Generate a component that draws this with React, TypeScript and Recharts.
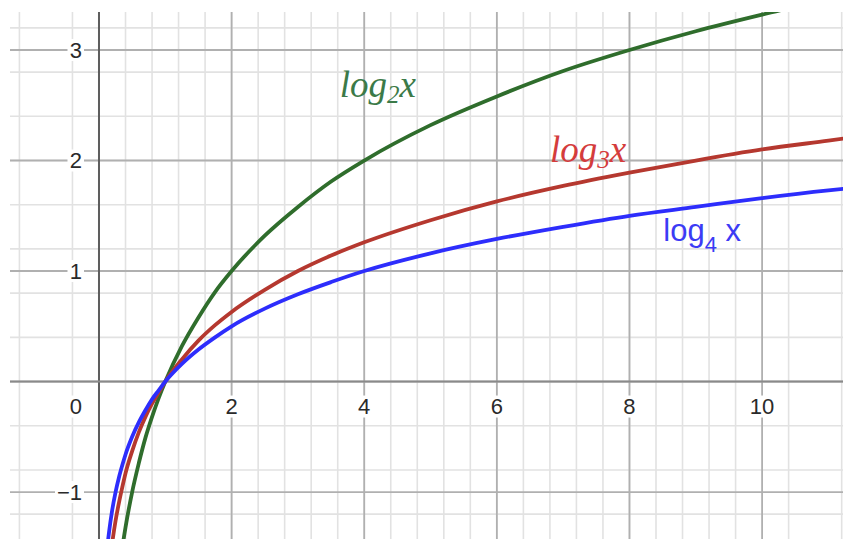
import React from 'react';
import {
  ComposedChart, Line, XAxis, YAxis, CartesianGrid,
  ReferenceLine, ReferenceDot,
} from 'recharts';

// sample points along each curve
const xs = [0.1, 0.12, 0.15, 0.2, 0.25, 0.3, 0.35, 0.4, 0.5, 0.6, 0.7, 0.8, 0.9, 1, 1.25, 1.5, 1.75, 2, 2.5, 3, 3.5, 4, 5, 6, 7, 8, 9, 10, 11, 11.5];
const log2Vals = [-3.32, -3.06, -2.74, -2.32, -2.0, -1.74, -1.51, -1.32, -1.0, -0.74, -0.51, -0.32, -0.15, 0, 0.32, 0.58, 0.81, 1.0, 1.32, 1.58, 1.81, 2.0, 2.32, 2.58, 2.81, 3.0, 3.17, 3.32, 3.46, 3.52];
const log3Vals = [-2.1, -1.93, -1.73, -1.46, -1.26, -1.1, -0.96, -0.83, -0.63, -0.46, -0.32, -0.2, -0.1, 0, 0.2, 0.37, 0.51, 0.63, 0.83, 1.0, 1.14, 1.26, 1.46, 1.63, 1.77, 1.89, 2.0, 2.1, 2.18, 2.22];
const log4Vals = [-1.66, -1.53, -1.37, -1.16, -1.0, -0.87, -0.76, -0.66, -0.5, -0.37, -0.26, -0.16, -0.08, 0, 0.16, 0.29, 0.4, 0.5, 0.66, 0.79, 0.9, 1.0, 1.16, 1.29, 1.4, 1.5, 1.58, 1.66, 1.73, 1.76];

const xTicks = [2, 4, 6, 8, 10];
const yTicks = [-1, 1, 2, 3];

const X_DOMAIN: [number, number] = [-1.342, 11.22];
const Y_DOMAIN: [number, number] = [-1.425, 3.344];

const minorX = Array.from({ length: 32 }, (_, i) => +(-1.2 + i * 0.4).toFixed(2));
const minorY = Array.from({ length: 24 }, (_, i) => +(-1.4 + i * 0.2).toFixed(2));
const majorX = [-2, 0, 2, 4, 6, 8, 10, 12];
const majorY = [-1, 0, 1, 2, 3];

const GREEN = '#2f6d2c';
const RED = '#b5382f';
const BLUE = '#2d2dfc';

const data = xs.map((x, i) => ({ x, l2: log2Vals[i], l3: log3Vals[i], l4: log4Vals[i] }));

const tickFont = { fontFamily: '"Liberation Sans", Arial, sans-serif', fontSize: 22, fill: '#2a2a2a' };

// axis number on a small white patch so the grid doesn't run through it
function tickLabel(text: string, dx: number, dy: number, anchor: string) {
  return (props: any) => {
    const vb = props.viewBox || {};
    const cx = vb.x + (vb.width || 0) / 2 + dx;
    const cy = vb.y + (vb.height || 0) / 2 + dy;
    const w = text.length * 12.5 + 4;
    const left = anchor === 'end' ? cx - w + 2 : cx - w / 2;
    return (
      <g>
        <rect x={left} y={cy - 11} width={w} height={22} fill="#fff" />
        <text x={cx} y={cy} textAnchor={anchor} dominantBaseline="central" {...tickFont}>
          {text}
        </text>
      </g>
    );
  };
}

// curve name with a subscript base
function curveLabel(base: string, color: string, serif: boolean) {
  return (props: any) => {
    const vb = props.viewBox || {};
    const x0 = vb.x + (vb.width || 0) / 2;
    const y0 = vb.y + (vb.height || 0) / 2;
    const font = serif
      ? { fontFamily: '"Liberation Serif", "Times New Roman", serif', fontStyle: 'italic', fontSize: 37 }
      : { fontFamily: '"Liberation Sans", Arial, sans-serif', fontSize: 31 };
    return (
      <text x={x0} y={y0} fill={color} {...font}>
        <tspan>log</tspan>
        <tspan fontSize={serif ? 25 : 22} dy={serif ? 6 : 11}>{base}</tspan>
        <tspan dy={serif ? -6 : -11}>{serif ? 'x' : '\u00a0x'}</tspan>
      </text>
    );
  };
}

export default function App() {
  return (
    <div style={{ position: 'fixed', left: 0, top: 0, width: 843, height: 539, background: '#fff' }}>
      <ComposedChart
        width={843}
        height={539}
        data={data}
        margin={{ top: 12, left: 10, right: 0, bottom: 0 }}
      >
        <XAxis dataKey="x" type="number" domain={X_DOMAIN} allowDataOverflow hide />
        <YAxis type="number" domain={Y_DOMAIN} allowDataOverflow hide />

        {/* minor grid */}
        <CartesianGrid verticalValues={minorX} horizontalValues={minorY} stroke="#e2e2e2" strokeWidth={1.6} />
        {/* major grid */}
        <CartesianGrid verticalValues={majorX} horizontalValues={majorY} stroke="#b0b0b0" strokeWidth={1.8} />

        {/* axes through the origin */}
        <ReferenceLine x={0} stroke="#5e5e5e" strokeWidth={2} />
        <ReferenceLine y={0} stroke="#8a8a8a" strokeWidth={2} />

        {xTicks.map((t) => (
          <ReferenceDot key={`x${t}`} x={t} y={0} r={0} stroke="none" label={tickLabel(String(t), 0, 25, 'middle')} />
        ))}
        {yTicks.map((t) => (
          <ReferenceDot key={`y${t}`} x={0} y={t} r={0} stroke="none" label={tickLabel(t < 0 ? `\u2212${-t}` : String(t), -17, 0, 'end')} />
        ))}
        <ReferenceDot x={0} y={0} r={0} stroke="none" label={tickLabel('0', -23, 25, 'middle')} />

        <Line type="monotone" dataKey="l2" stroke={GREEN} strokeWidth={3.8} dot={false} isAnimationActive={false} />
        <Line type="monotone" dataKey="l3" stroke={RED} strokeWidth={3.8} dot={false} isAnimationActive={false} />
        <Line type="monotone" dataKey="l4" stroke={BLUE} strokeWidth={3.8} dot={false} isAnimationActive={false} />

        <ReferenceDot x={3.63} y={2.575} r={0} stroke="none" label={curveLabel('2', '#3b7a48', true)} />
        <ReferenceDot x={6.8} y={1.986} r={0} stroke="none" label={curveLabel('3', '#d43c3c', true)} />
        <ReferenceDot x={8.51} y={1.27} r={0} stroke="none" label={curveLabel('4', '#3b3bf5', false)} />
      </ComposedChart>
    </div>
  );
}
